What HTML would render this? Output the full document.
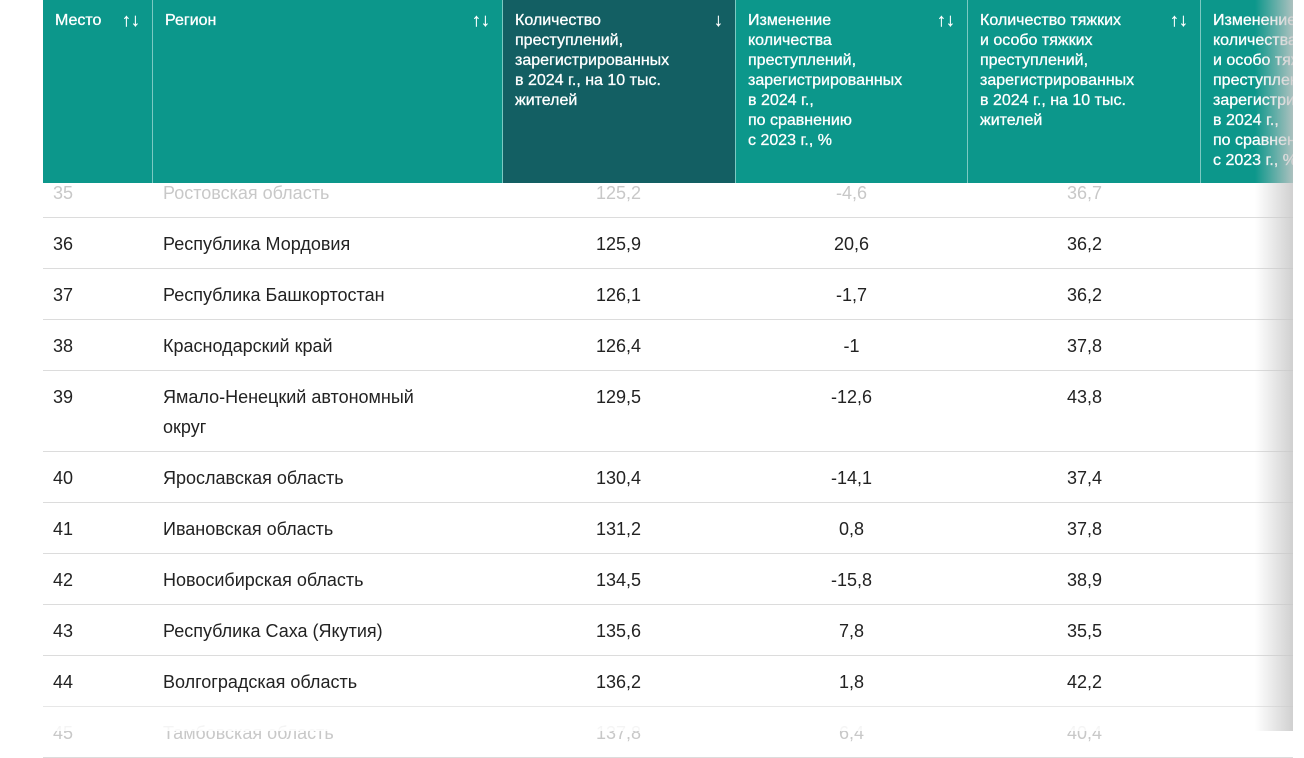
<!DOCTYPE html>
<html><head><meta charset="utf-8"><style>
body{margin:0;width:1304px;height:731px;overflow:hidden;background:#fff;font-family:"Liberation Sans",sans-serif;position:relative}
.h{position:absolute;top:0;height:183px;background:#0c978b;color:#fff;font-size:16px;line-height:20px;box-sizing:border-box;padding:11px 12px;border-right:1px solid #7cc9c2;-webkit-text-stroke:0.3px #fff}
.h.s{background:#135f63}
.ar{position:absolute;top:10px;right:12px;font-size:18px}
.r{position:absolute;left:43px;width:1250px;border-bottom:1px solid #dcdcdc;font-size:18px;color:#222}
.r div{position:absolute;top:16px}
.c3,.c4,.c5{width:233px;text-align:center;margin-left:-116px}
.fade{color:#c8c8c8}
.sh{position:absolute;left:1255px;top:0;width:38px;height:731px;background:linear-gradient(90deg,rgba(255,255,255,0),rgba(200,200,200,.85))}
.bf{position:absolute;left:0;top:706px;width:1304px;height:25px;background:linear-gradient(180deg,rgba(255,255,255,.3),rgba(255,255,255,.9))}
</style></head><body>
<div id="rows"></div>
<div class="bf"></div>
<div class="h" style="left:43px;width:110px">Место<span class="ar">↑↓</span></div>
<div class="h" style="left:153px;width:350px">Регион<span class="ar">↑↓</span></div>
<div class="h s" style="left:503px;width:233px">Количество<br>преступлений,<br>зарегистрированных<br>в 2024 г., на 10 тыс.<br>жителей<span class="ar">↓</span></div>
<div class="h" style="left:736px;width:232px">Изменение<br>количества<br>преступлений,<br>зарегистрированных<br>в 2024 г.,<br>по сравнению<br>с 2023 г., %<span class="ar">↑↓</span></div>
<div class="h" style="left:968px;width:233px">Количество тяжких<br>и особо тяжких<br>преступлений,<br>зарегистрированных<br>в 2024 г., на 10 тыс.<br>жителей<span class="ar">↑↓</span></div>
<div class="h" style="left:1201px;width:92px;overflow:hidden;white-space:nowrap;border-right:none">Изменение<br>количества тяжких<br>и особо тяжких<br>преступлений,<br>зарегистрированных<br>в 2024 г.,<br>по сравнению<br>с 2023 г., %</div>
<div class="sh"></div>
<script>
const places=[35,36,37,38,39,40,41,42,43,44,45];
const regions=["Ростовская область","Республика Мордовия","Республика Башкортостан","Краснодарский край","Ямало-Ненецкий автономный<br>округ","Ярославская область","Ивановская область","Новосибирская область","Республика Саха (Якутия)","Волгоградская область","Тамбовская область"];
const crimes=["125,2","125,9","126,1","126,4","129,5","130,4","131,2","134,5","135,6","136,2","137,8"];
const change=["-4,6","20,6","-1,7","-1","-12,6","-14,1","0,8","-15,8","7,8","1,8","6,4"];
const grave=["36,7","36,2","36,2","37,8","43,8","37,4","37,8","38,9","35,5","42,2","40,4"];
const wrap=document.getElementById('rows');
let y=167;
places.forEach((p,i)=>{
  const h=i===4?81:51;
  const r=document.createElement('div');
  
  
  r.className='r'+((i===0||i===10)?' fade':'');
  r.style.top=y+'px';r.style.height=(h-1)+'px';
  r.innerHTML=`<div style="left:10px">${p}</div><div style="left:120px;line-height:30px;top:11px">${regions[i]}</div><div class="c3" style="left:575px">${crimes[i]}</div><div class="c4" style="left:808px">${change[i]}</div><div class="c5" style="left:1041px">${grave[i]}</div>`;
  wrap.appendChild(r);
  y+=h;
});
</script>
</body></html>
